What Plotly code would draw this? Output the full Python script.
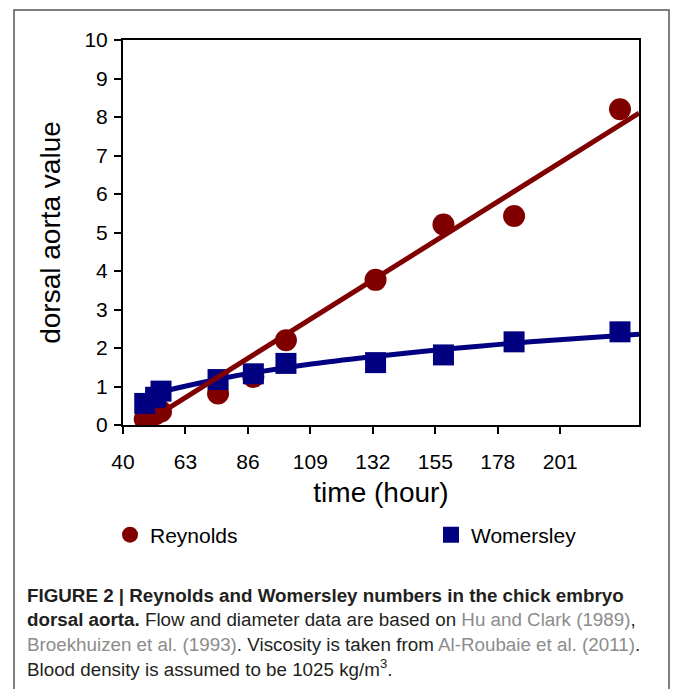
import plotly.graph_objects as go

# ---- data ----
time_h = [48, 52, 54, 75, 88, 100, 133, 158, 184, 223]
reynolds = [0.15, 0.28, 0.35, 0.82, 1.25, 2.20, 3.77, 5.21, 5.43, 8.20]
womersley = [0.56, 0.72, 0.88, 1.18, 1.33, 1.60, 1.62, 1.82, 2.16, 2.42]

# trend lines as drawn in the picture
rey_fit_t = [48, 230]
rey_fit_v = [0.05, 8.10]
wom_fit_t = [48, 60, 75, 90, 110, 130, 150, 170, 190, 210, 230]
wom_fit_v = [0.73, 0.96, 1.19, 1.38, 1.59, 1.76, 1.91, 2.04, 2.16, 2.26, 2.36]

x_ticks = [40, 63, 86, 109, 132, 155, 178, 201]
y_ticks = [0, 1, 2, 3, 4, 5, 6, 7, 8, 9, 10]

RED = "#800000"
BLUE = "#000080"
FONT = "Liberation Sans, Arial, sans-serif"

W, H = 673, 689
L, R, T, B = 123, 639, 40, 425  # plot area in pixels
pw, ph = R - L, B - T


def px_x(p):
    return (p - L) / pw


def px_y(p):
    return (B - p) / ph


fig = go.Figure()
fig.add_trace(go.Scatter(x=time_h, y=reynolds, mode="markers", name="Reynolds",
                         legend="legend",
                         marker=dict(symbol="circle", size=22, color=RED)))
fig.add_trace(go.Scatter(x=time_h, y=womersley, mode="markers", name="Womersley",
                         legend="legend2",
                         marker=dict(symbol="square", size=21, color=BLUE)))
fig.add_trace(go.Scatter(x=wom_fit_t, y=wom_fit_v, mode="lines", showlegend=False,
                         line=dict(color=BLUE, width=5, shape="spline")))
fig.add_trace(go.Scatter(x=rey_fit_t, y=rey_fit_v, mode="lines", showlegend=False,
                         line=dict(color=RED, width=5)))

axis_common = dict(showline=True, linecolor="black", linewidth=2, mirror=True,
                   ticks="outside", ticklen=7, tickwidth=2, tickcolor="black",
                   showgrid=False, zeroline=False,
                   tickfont=dict(family=FONT, size=21, color="black"))

fig.update_xaxes(range=[40, 230], tickvals=x_ticks, ticktext=[str(v) for v in x_ticks],
                 ticklabelstandoff=10,
                 title=dict(text="time (hour)", font=dict(family=FONT, size=28, color="black"),
                            standoff=10),
                 **axis_common)
fig.update_yaxes(range=[0, 10], tickvals=y_ticks, ticktext=[str(v) for v in y_ticks],
                 ticklabelstandoff=2,
                 title=dict(text="dorsal aorta value", font=dict(family=FONT, size=28, color="black"),
                            standoff=16),
                 **axis_common)

GRAY = "#8c8c8c"
TXT = "#231f20"
cap_lines = [
    "<b>FIGURE 2 | Reynolds and Womersley numbers in the chick embryo</b>",
    "<b>dorsal aorta.</b> Flow and diameter data are based on "
    f"<span style='color:{GRAY}'>Hu and Clark (1989)</span>,",
    f"<span style='color:{GRAY}'>Broekhuizen et al. (1993)</span>. Viscosity is taken from "
    f"<span style='color:{GRAY}'>Al-Roubaie et al. (2011)</span>.",
    "Blood density is assumed to be 1025 kg/m<sup>3</sup>.",
]
cap_y = [595, 619, 644, 668]
for txt, yy in zip(cap_lines, cap_y):
    fig.add_annotation(text=txt, xref="paper", yref="paper", x=px_x(25), y=px_y(yy),
                       xanchor="left", yanchor="middle", showarrow=False,
                       font=dict(family=FONT, size=18.8, color=TXT), align="left")

# outer frame
fig.add_shape(type="rect", xref="paper", yref="paper",
              x0=px_x(14), x1=px_x(669), y0=px_y(720), y1=px_y(10),
              line=dict(color="#555555", width=1.5), layer="below")

legend_common = dict(orientation="h", xref="container", yref="container",
                     xanchor="left", yanchor="middle",
                     font=dict(family=FONT, size=21, color="black"),
                     bgcolor="rgba(0,0,0,0)")

fig.update_layout(
    width=W, height=H,
    margin=dict(l=L, r=W - R, t=T, b=H - B, autoexpand=False),
    paper_bgcolor="white", plot_bgcolor="white",
    showlegend=True,
    legend=dict(x=(130 - 20) / W, y=1 - 535 / H, **legend_common),
    legend2=dict(x=(451 - 20) / W, y=1 - 535 / H, **legend_common),
    font=dict(family=FONT),
)

fig.write_html("out.html")
